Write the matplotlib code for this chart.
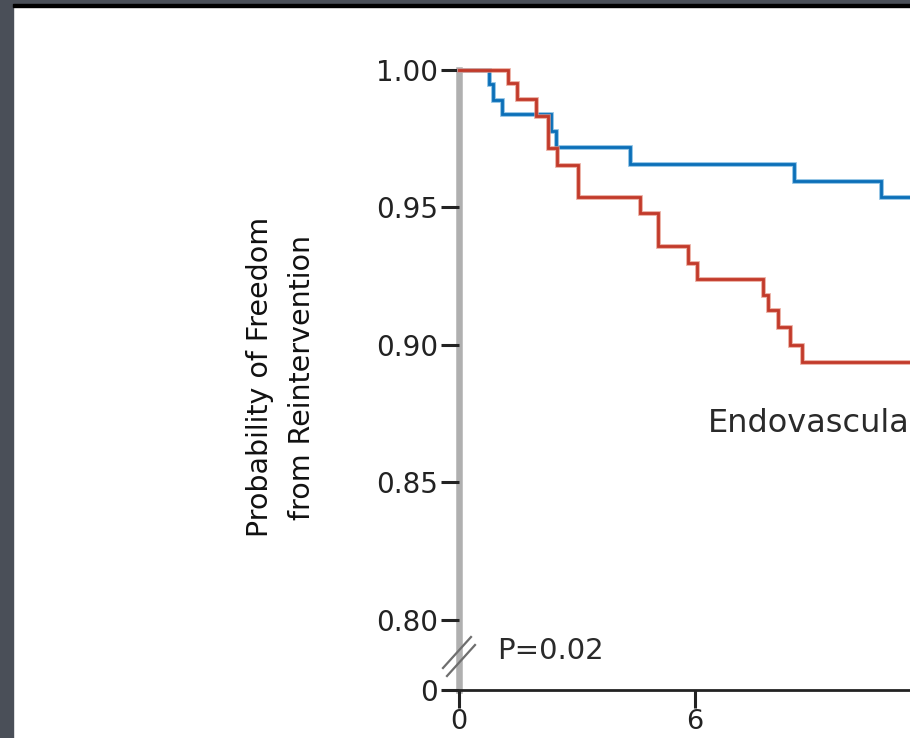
import numpy as np
import matplotlib.pyplot as plt
from matplotlib.patches import Rectangle
from matplotlib.lines import Line2D

# Kaplan-Meier steps (months, probability of freedom from reintervention)
blue_t = [0, 0.77, 0.87, 1.10, 2.33, 2.47, 4.35, 8.53, 10.72, 11.6]
blue_s = [1.0, 0.9950, 0.9891, 0.9839, 0.9779, 0.9719, 0.9657, 0.9596, 0.9538, 0.9538]

red_t = [0, 1.25, 1.47, 1.97, 2.27, 2.50, 3.02, 4.60, 5.07, 5.83, 6.04,
         7.74, 7.86, 8.12, 8.42, 8.71, 11.6]
red_s = [1.0, 0.9952, 0.9893, 0.9833, 0.9715, 0.9655, 0.9538, 0.9479, 0.9359,
         0.9297, 0.9239, 0.9182, 0.9127, 0.9064, 0.9000, 0.8939, 0.8939]

y_ticks = [1.00, 0.95, 0.90, 0.85, 0.80]
y_tick_labels = ['1.00', '0.95', '0.90', '0.85', '0.80']
x_ticks = [0, 6]
y_break_zero = 0.774545   # where the "0" of the broken axis sits

W, H = 910, 738
fig = plt.figure(figsize=(W / 100, H / 100), dpi=100)
fig.patch.set_facecolor('white')

# axes: x from px 459 to 910, y from px 60 to 690
ax = fig.add_axes([459 / W, (H - 690) / H, (W - 459) / W, 630 / H])
ax.set_xlim(0, 451 / 39.33)
ax.set_ylim(y_break_zero, 1.0 + 10 / 2750)

blue = '#0b6fb8'
red = '#c23a2a'
for t, s, c, halo in [(blue_t, blue_s, blue, '#6aaedc'), (red_t, red_s, red, '#e49383')]:
    ax.step(t, s, where='post', color=halo, lw=3.4, alpha=0.8, clip_on=False,
            solid_joinstyle='miter')
    ax.step(t, s, where='post', color=c, lw=2.0, clip_on=False,
            solid_joinstyle='miter')

for sp in ['top', 'right']:
    ax.spines[sp].set_visible(False)
ax.spines['left'].set_color('#b0b0b0')
ax.spines['left'].set_linewidth(4.7)
ax.spines['left'].set_bounds(y_break_zero, 1.0)
ax.spines['left'].set_zorder(1)
ax.spines['bottom'].set_color('#222222')
ax.spines['bottom'].set_linewidth(2.0)

ax.set_yticks(y_ticks + [y_break_zero])
ax.set_yticklabels(y_tick_labels + ['0'])
ax.set_xticks(x_ticks)
ax.set_xticklabels([str(v) for v in x_ticks])
ax.tick_params(axis='both', colors='#222222', length=13, width=2.2,
               labelsize=20)
ax.tick_params(axis='y', pad=2)
ax.tick_params(axis='x', pad=0.5, labelsize=19.5)

# axis break marks
for dx, dy in [(0, 0), (4, 8)]:
    x0, y0 = 443 + dx, 668 + dy
    x1, y1 = 471 + dx, 637 + dy
    ax.add_line(Line2D([(x0 - 459) / 451, (x1 - 459) / 451],
                       [(690 - y0) / 630, (690 - y1) / 630],
                       transform=ax.transAxes, color='#6e6e6e', lw=1.6,
                       clip_on=False, zorder=5))

ax.text(0.966, 0.7858, 'P=0.02', fontsize=21, color='#2a2a2a', va='baseline')
ax.text(6.33, 0.8684, 'Endovascula', fontsize=23, color='#2a2a2a',
        va='baseline', clip_on=False)

fig.text(281 / W, 1 - 377 / H, 'Probability of Freedom\nfrom Reintervention',
         rotation=90, ha='center', va='center', multialignment='center',
         fontsize=20.5, color='#111111', linespacing=1.65)

# screenshot frame
fig.patches.append(Rectangle((0, 0), 13 / W, 1, transform=fig.transFigure,
                             color='#4a4f58', zorder=10))
fig.patches.append(Rectangle((0, 1 - 4 / H), 1, 4 / H, transform=fig.transFigure,
                             color='#4a4f58', zorder=10))
fig.patches.append(Rectangle((13 / W, 1 - 7 / H), 1, 3 / H, transform=fig.transFigure,
                             color='black', zorder=10))

fig.savefig('out.png', dpi=100)
